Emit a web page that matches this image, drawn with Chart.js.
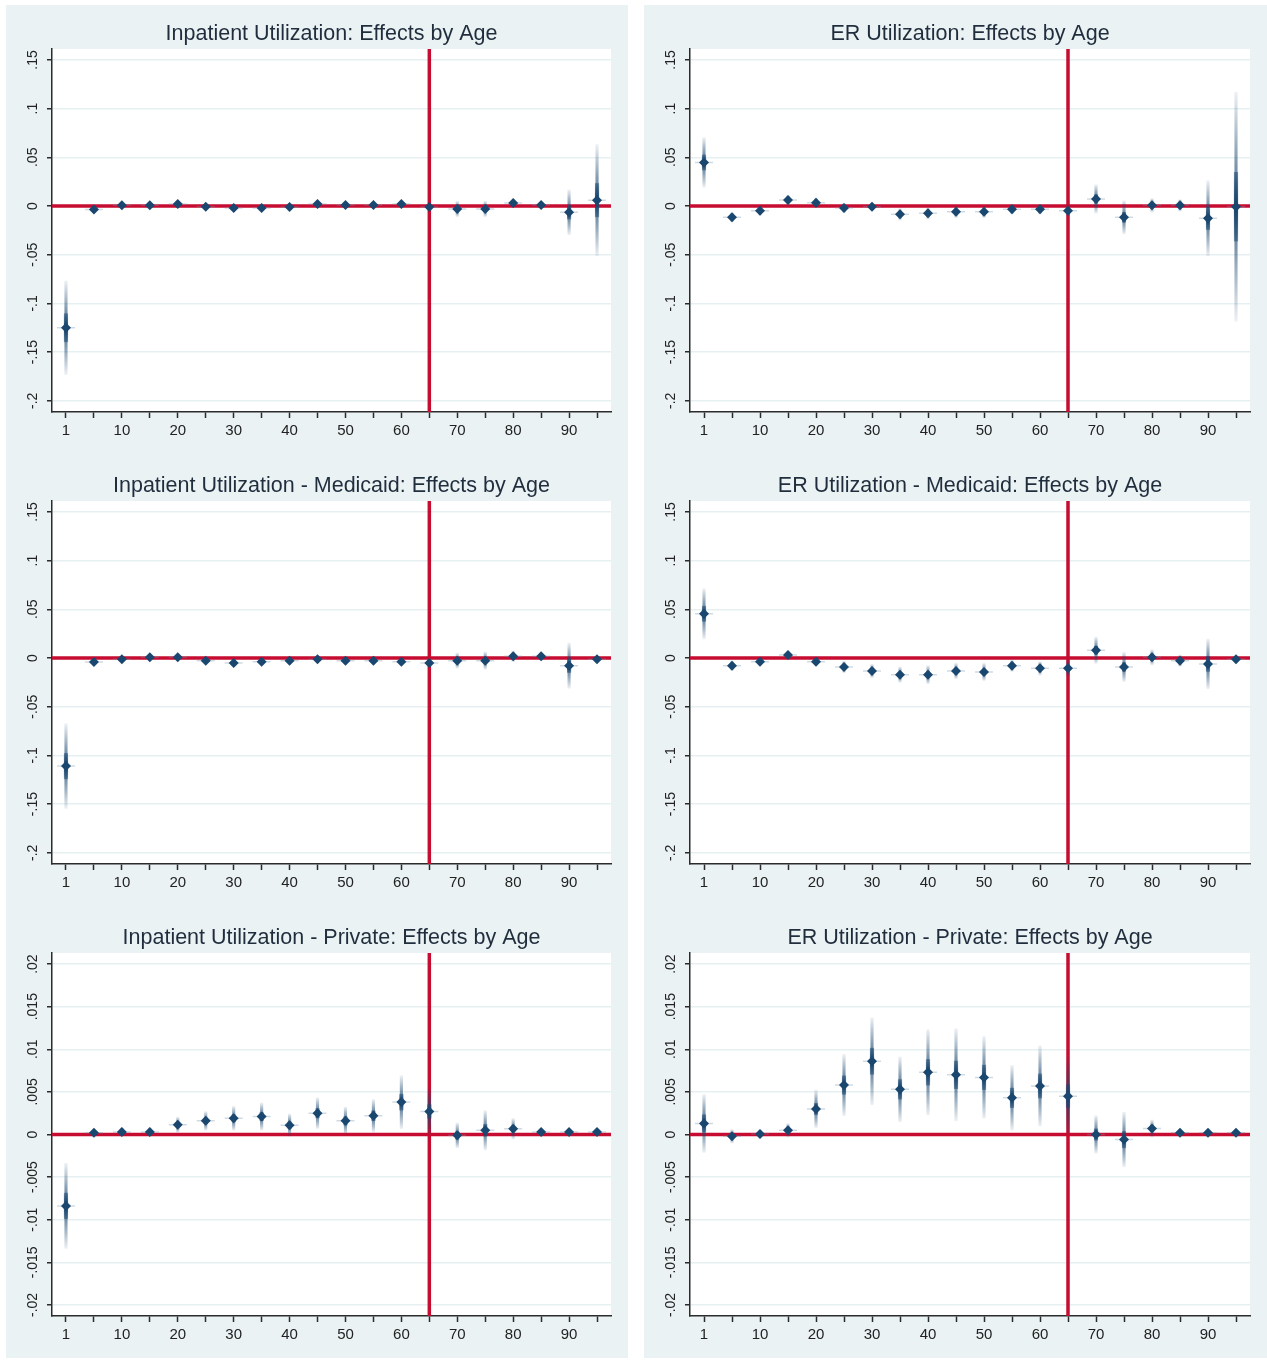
<!DOCTYPE html>
<html>
<head>
<meta charset="utf-8">
<script src="https://cdn.jsdelivr.net/npm/chart.js@4.4.1/dist/chart.umd.min.js"></script>
<style>
  body { margin: 0; background: #fff; width: 1267px; height: 1360px; position: relative; }
  .col { position: absolute; top: 5px; height: 1353px; background: #eaf2f3; }
  .col canvas { position: absolute; left: 0; }
</style>
</head>
<body>
<div class="col" id="colL" style="left:6px;width:622px">
  <canvas id="c0" width="622" height="451" style="top:0"></canvas>
  <canvas id="c2" width="622" height="451" style="top:452px"></canvas>
  <canvas id="c4" width="622" height="451" style="top:904px"></canvas>
</div>
<div class="col" id="colR" style="left:644px;width:623px">
  <canvas id="c1" width="623" height="451" style="top:0"></canvas>
  <canvas id="c3" width="623" height="451" style="top:452px"></canvas>
  <canvas id="c5" width="623" height="451" style="top:904px"></canvas>
</div>
<script>
// age groups on the x axis, labels only on every other one
const ages = [1, 5, 10, 15, 20, 25, 30, 35, 40, 45, 50, 55, 60, 65, 70, 75, 80, 85, 90, 95];
const xTickLabels = ['1', '', '10', '', '20', '', '30', '', '40', '', '50', '', '60', '', '70', '', '80', '', '90', ''];
const cutoffAge = 65;

const yTicksWide = [-0.2, -0.15, -0.1, -0.05, 0, 0.05, 0.1, 0.15];
const yTickLabelsWide = ['-.2', '-.15', '-.1', '-.05', '0', '.05', '.1', '.15'];
const yRangeWide = [-0.2115, 0.1612];
const yTicksNarrow = [-0.02, -0.015, -0.01, -0.005, 0, 0.005, 0.01, 0.015, 0.02];
const yTickLabelsNarrow = ['-.02', '-.015', '-.01', '-.005', '0', '.005', '.01', '.015', '.02'];
const yRangeNarrow = [-0.0213, 0.0213];

const titles = [
  'Inpatient Utilization: Effects by Age',
  'ER Utilization: Effects by Age',
  'Inpatient Utilization - Medicaid: Effects by Age',
  'ER Utilization - Medicaid: Effects by Age',
  'Inpatient Utilization - Private: Effects by Age',
  'ER Utilization - Private: Effects by Age'
];

// point estimates and 95% CI half widths
const inpatientEst = [-0.125, -0.0035, 0.0007, 0.0007, 0.002, -0.0007, -0.002, -0.002, -0.001, 0.002, 0.001, 0.001, 0.002, -0.001, -0.003, -0.003, 0.003, 0.001, -0.0065, 0.006];
const inpatientCi = [0.048, 0.003, 0.003, 0.003, 0.003, 0.003, 0.003, 0.003, 0.003, 0.003, 0.003, 0.003, 0.003, 0.003, 0.008, 0.008, 0.0035, 0.003, 0.023, 0.057];

const erEst = [0.0447, -0.0116, -0.0048, 0.0061, 0.0034, -0.002, -0.0007, -0.0085, -0.0075, -0.006, -0.006, -0.0034, -0.0034, -0.0048, 0.0072, -0.0116, 0.0007, 0.0007, -0.0126, -0.0007];
const erCi = [0.0255, 0.005, 0.005, 0.005, 0.005, 0.005, 0.004, 0.006, 0.006, 0.006, 0.006, 0.005, 0.005, 0.006, 0.0145, 0.017, 0.007, 0.006, 0.0385, 0.1175];

const inpatientMedicaidEst = [-0.111, -0.004, -0.0014, 0.0007, 0.0007, -0.0027, -0.0051, -0.0038, -0.0027, -0.0014, -0.0027, -0.0027, -0.0038, -0.0051, -0.0027, -0.0027, 0.0017, 0.0017, -0.0079, -0.0014];
const inpatientMedicaidCi = [0.0435, 0.003, 0.003, 0.003, 0.003, 0.003, 0.003, 0.003, 0.003, 0.003, 0.003, 0.003, 0.003, 0.004, 0.0077, 0.0089, 0.0055, 0.004, 0.0232, 0.003];

const erMedicaidEst = [0.0454, -0.0079, -0.0038, 0.0031, -0.0038, -0.0092, -0.0133, -0.0171, -0.0171, -0.0133, -0.0143, -0.0079, -0.0106, -0.0106, 0.0079, -0.0092, 0.0007, -0.0027, -0.0061, -0.0014];
const erMedicaidCi = [0.0257, 0.005, 0.004, 0.004, 0.004, 0.006, 0.007, 0.008, 0.0093, 0.008, 0.0089, 0.006, 0.007, 0.0085, 0.0135, 0.015, 0.0078, 0.006, 0.0254, 0.004];

const inpatientPrivateEst = [-0.00838, 0.0002, 0.0003, 0.0003, 0.00114, 0.0016, 0.0019, 0.0021, 0.0011, 0.0025, 0.0016, 0.0022, 0.0038, 0.0027, -0.0001, 0.0005, 0.00067, 0.0003, 0.0003, 0.0003];
const inpatientPrivateCi = [0.005, 0.0004, 0.0005, 0.0005, 0.0009, 0.0011, 0.0014, 0.0016, 0.0013, 0.0018, 0.0016, 0.0019, 0.0031, 0.0027, 0.00145, 0.0023, 0.0012, 0.0004, 0.0004, 0.0004];

const erPrivateEst = [0.0013, -0.0002, 0.00005, 0.0005, 0.003, 0.0058, 0.0086, 0.0053, 0.0073, 0.007, 0.0067, 0.0043, 0.0057, 0.0045, 0.0, -0.0006, 0.0007, 0.0002, 0.0002, 0.0002];
const erPrivateCi = [0.0034, 0.0008, 0.0005, 0.0008, 0.0022, 0.0036, 0.0051, 0.0038, 0.005, 0.0054, 0.0048, 0.0038, 0.0047, 0.0045, 0.0022, 0.0032, 0.001, 0.0004, 0.0004, 0.0004];

const panels = [
  { est: inpatientEst, ci: inpatientCi, narrow: false },
  { est: erEst, ci: erCi, narrow: false },
  { est: inpatientMedicaidEst, ci: inpatientMedicaidCi, narrow: false },
  { est: erMedicaidEst, ci: erMedicaidCi, narrow: false },
  { est: inpatientPrivateEst, ci: inpatientPrivateCi, narrow: true },
  { est: erPrivateEst, ci: erPrivateCi, narrow: true }
];

const FONT = "'Liberation Sans', Arial, sans-serif";
const navy = a => `rgba(26,71,111,${a})`;
const RED = '#c60c30';
const AXIS = '#2b2b2b';

// fading spike: light at the ends, dark around the estimate
function spikeFill(endA, midA) {
  return c => {
    const p = c.parsed;
    if (!p || !p._custom || !c.chart.chartArea) return navy(midA);
    const y = c.chart.scales.y;
    const top = y.getPixelForValue(p._custom.max);
    const bot = y.getPixelForValue(p._custom.min);
    if (!isFinite(top) || !isFinite(bot) || bot - top < 1) return navy(midA);
    const g = c.chart.ctx.createLinearGradient(0, top, 0, bot);
    g.addColorStop(0, navy(endA));
    g.addColorStop(0.5, navy(midA));
    g.addColorStop(1, navy(endA));
    return g;
  };
}

const plotDecor = {
  id: 'plotDecor',
  beforeDraw(chart) {
    const { ctx, chartArea: a } = chart;
    ctx.save();
    ctx.fillStyle = '#fff';
    ctx.fillRect(a.left, a.top, a.right - a.left, a.bottom - a.top);
    ctx.restore();
  },
  beforeDatasetsDraw(chart) {
    const { ctx, chartArea: a, scales: { x, y } } = chart;
    const y0 = y.getPixelForValue(0);
    const xc = x.getPixelForValue(ages.indexOf(cutoffAge));
    ctx.save();
    ctx.strokeStyle = RED;
    ctx.lineWidth = 3.5;
    ctx.beginPath();
    ctx.moveTo(a.left, y0); ctx.lineTo(a.right, y0);
    ctx.moveTo(xc, a.top); ctx.lineTo(xc, a.bottom);
    ctx.stroke();
    ctx.restore();
  },
  afterDraw(chart) {
    // rotated y tick labels, read bottom to top
    const { ctx, scales: { y } } = chart;
    const labels = chart.options.plugins.plotDecor.labels;
    ctx.save();
    ctx.fillStyle = '#222';
    ctx.font = '14px ' + FONT;
    ctx.textAlign = 'center';
    ctx.textBaseline = 'middle';
    y.ticks.forEach((t, i) => {
      ctx.save();
      ctx.translate(y.right - 19, y.getPixelForValue(t.value));
      ctx.rotate(-Math.PI / 2);
      ctx.fillText(labels[i], 0, 0);
      ctx.restore();
    });
    ctx.restore();
  }
};

panels.forEach((p, k) => {
  const ticks = p.narrow ? yTicksNarrow : yTicksWide;
  const tickLabels = p.narrow ? yTickLabelsNarrow : yTickLabelsWide;
  const range = p.narrow ? yRangeNarrow : yRangeWide;
  const outer = p.est.map((v, i) => [v - p.ci[i], v + p.ci[i]]);
  const inner = p.est.map((v, i) => [v - 0.3 * p.ci[i], v + 0.3 * p.ci[i]]);

  new Chart(document.getElementById('c' + k), {
    type: 'bar',
    plugins: [plotDecor],
    data: {
      labels: ages,
      datasets: [
        { data: outer, grouped: false, barThickness: 2.5, backgroundColor: spikeFill(0.08, 0.85), order: 4 },
        { type: 'line', data: p.est, showLine: false, pointStyle: 'line', pointRadius: 9,
          pointBorderColor: 'rgba(120,150,175,0.35)', pointBorderWidth: 1.5, order: 3 },
        { data: inner, grouped: false, barThickness: 3.5, backgroundColor: spikeFill(0.5, 1), order: 2 },
        { type: 'line', data: p.est, showLine: false, pointStyle: 'rectRot', pointRadius: 5,
          pointBackgroundColor: navy(1), pointBorderColor: navy(1), pointBorderWidth: 0, order: 1 }
      ]
    },
    options: {
      responsive: false,
      animation: false,
      layout: { padding: { left: 0, right: 17, top: 0, bottom: 0 } },
      plugins: {
        legend: { display: false },
        tooltip: { enabled: false },
        title: {
          display: true, text: titles[k], fullSize: false, color: '#1f2d3d',
          font: { family: FONT, size: 21.5, weight: 'normal', lineHeight: 1 },
          padding: { top: 18.5, bottom: 4 }
        },
        plotDecor: { labels: tickLabels }
      },
      scales: {
        x: {
          offset: true,
          afterFit: s => { s.height = 44; },
          grid: { offset: false, drawOnChartArea: false, drawTicks: true, tickLength: 6, tickColor: AXIS, tickWidth: 1.5 },
          border: { color: AXIS, width: 1.5 },
          ticks: {
            autoSkip: false, maxRotation: 0, padding: 4, color: '#222',
            font: { family: FONT, size: 15 },
            callback: (v, i) => xTickLabels[i]
          }
        },
        y: {
          min: range[0], max: range[1],
          afterFit: s => { s.width = 46; },
          afterBuildTicks: s => { s.ticks = ticks.map(v => ({ value: v })); },
          grid: { color: '#e6eff1', lineWidth: 1.5, drawTicks: true, tickLength: 5, tickColor: AXIS, tickWidth: 1.5 },
          border: { color: AXIS, width: 1.5 },
          ticks: { display: false }
        }
      }
    }
  });
});
</script>
</body>
</html>
